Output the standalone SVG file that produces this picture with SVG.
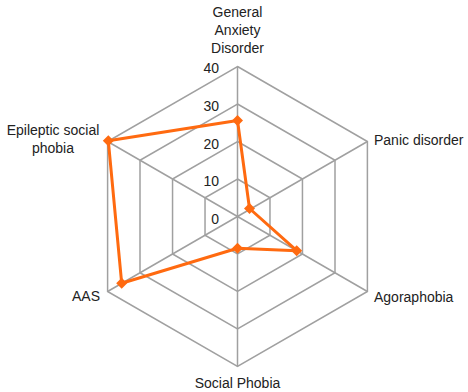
<svg xmlns="http://www.w3.org/2000/svg" width="468" height="392" viewBox="0 0 468 392">
<style>
.g{fill:none;stroke:#a0a0a0;stroke-width:1.5}
.t{font-family:"Liberation Sans",Arial,sans-serif;font-size:14px;fill:#222}
.s{fill:none;stroke:#ff6a10;stroke-width:3;stroke-linejoin:round}
.m{fill:#ff6a10}
</style>
<defs><path id="d" d="M0,-5.5L5.5,0L0,5.5L-5.5,0Z"/></defs>
<rect width="468" height="392" fill="#fff"/>
<g id="grid">
<polygon class="g" points="237.5,66.5 367.4,141.5 367.4,291.5 237.5,366.5 107.6,291.5 107.6,141.5"/>
<polygon class="g" points="237.5,104 335,160.25 335,272.75 237.5,329 140,272.75 140,160.25"/>
<polygon class="g" points="237.5,141.5 302.45,179 302.45,254 237.5,291.5 172.55,254 172.55,179"/>
<polygon class="g" points="237.5,179 269.97,197.75 269.97,235.25 237.5,254 205.03,235.25 205.03,197.75"/>
<path class="g" d="M237.5,216.5L237.5,66.5M237.5,216.5L367.4,141.5M237.5,216.5L367.4,291.5M237.5,216.5L237.5,366.5M237.5,216.5L107.6,291.5M237.5,216.5L107.6,141.5"/>
</g>
<g id="ticks" class="t" text-anchor="end">
<text x="219" y="73">40</text>
<text x="219" y="111">30</text>
<text x="219" y="149">20</text>
<text x="219" y="186">10</text>
<text x="219" y="224">0</text>
</g>
<g id="series">
<polygon class="s" points="237.5,120.5 249.5,208.5 296.7,250.7 237.5,248.3 121.7,283.3 108.3,140.7"/>
<use href="#d" class="m" x="237.5" y="120.5"/>
<use href="#d" class="m" x="249.5" y="208.5"/>
<use href="#d" class="m" x="296.7" y="250.7"/>
<use href="#d" class="m" x="237.5" y="248.3"/>
<use href="#d" class="m" x="121.7" y="283.3"/>
<use href="#d" class="m" x="108.3" y="140.7"/>
</g>
<g id="label-gad" class="t" text-anchor="middle">
<text x="237.5" y="17">General</text>
<text x="237.5" y="35">Anxiety</text>
<text x="237.5" y="53">Disorder</text>
</g>
<g id="label-panic" class="t"><text x="374" y="145">Panic disorder</text></g>
<g id="label-agora" class="t"><text x="374" y="302">Agoraphobia</text></g>
<g id="label-social" class="t" text-anchor="middle"><text x="237.5" y="388">Social Phobia</text></g>
<g id="label-aas" class="t" text-anchor="end"><text x="100" y="301">AAS</text></g>
<g id="label-eps" class="t" text-anchor="middle">
<text x="53" y="135">Epileptic social</text>
<text x="53" y="153">phobia</text>
</g>
</svg>
